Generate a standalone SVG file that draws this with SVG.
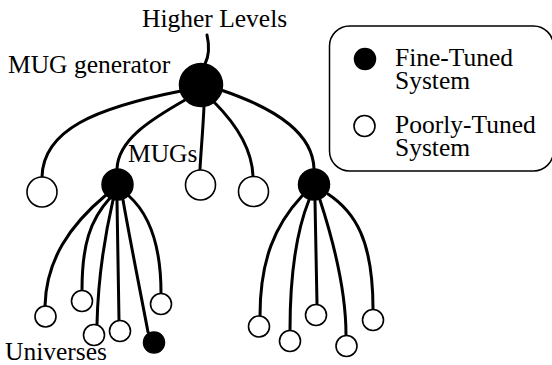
<svg xmlns="http://www.w3.org/2000/svg" width="552" height="365" viewBox="0 0 552 365">
  <style>
    .lbl { font-family: "Liberation Serif", "Times New Roman", serif; font-size: 25.5px; fill: #000; }
    .edge { fill: none; stroke: #000; stroke-width: 3; stroke-linecap: round; }
    .fine { fill: #000; stroke: #000; stroke-width: 1.5; }
    .poor { fill: #fff; stroke: #000; stroke-width: 1.6; }
  </style>
  <rect width="552" height="365" fill="#fff"/>

  <!-- connectors -->
  <g id="connectors">
    <path class="edge" d="M207 35 C210 48 208 58 205 64"/>
    <!-- generator to MUGs -->
    <path class="edge" d="M181 91 C95 108 43 130 42 177"/>
    <path class="edge" d="M185 100 C150 120 118 140 117 169"/>
    <path class="edge" d="M204 106 C203 130 201 150 200 169"/>
    <path class="edge" d="M214 102 C236 124 252 150 253 176"/>
    <path class="edge" d="M221 90 C280 110 313 135 314 169"/>
    <!-- first MUG to universes -->
    <path class="edge" d="M106 195 C70 225 46 260 45 306"/>
    <path class="edge" d="M110 198 C90 220 82 245 82 290"/>
    <path class="edge" d="M113 200 C105 235 98 280 97 324"/>
    <path class="edge" d="M117 201 L119 320"/>
    <path class="edge" d="M123 200 C130 240 140 290 148 332"/>
    <path class="edge" d="M129 196 C150 215 161 245 161 293"/>
    <!-- second MUG to universes -->
    <path class="edge" d="M302 196 C275 225 260 260 260 316"/>
    <path class="edge" d="M309 200 C297 230 290 270 290 330"/>
    <path class="edge" d="M315 201 L317 304"/>
    <path class="edge" d="M320 200 C333 240 346 290 346 335"/>
    <path class="edge" d="M328 194 C355 212 373 240 373 309"/>
  </g>

  <!-- MUG generator -->
  <g id="generator">
    <circle class="fine" cx="201" cy="85" r="21.5"/>
  </g>

  <!-- MUGs -->
  <g id="mug-left-open"><circle class="poor" cx="42" cy="192" r="15"/></g>
  <g id="mug-1"><circle class="fine" cx="117.5" cy="184.5" r="15.5"/></g>
  <g id="mug-mid-open"><circle class="poor" cx="200.5" cy="185" r="15"/></g>
  <g id="mug-right-open"><circle class="poor" cx="253.5" cy="191.5" r="15"/></g>
  <g id="mug-2"><circle class="fine" cx="314" cy="184.5" r="15.5"/></g>

  <!-- universes of the first MUG -->
  <g id="u1a"><circle class="poor" cx="45.5" cy="316.5" r="10.5"/></g>
  <g id="u1b"><circle class="poor" cx="82" cy="301" r="10.5"/></g>
  <g id="u1c"><circle class="poor" cx="94" cy="335" r="10.5"/></g>
  <g id="u1d"><circle class="poor" cx="120" cy="331" r="10.5"/></g>
  <g id="u1e"><circle class="fine" cx="154" cy="342.5" r="10.5"/></g>
  <g id="u1f"><circle class="poor" cx="161" cy="304" r="10.5"/></g>

  <!-- universes of the second MUG -->
  <g id="u2a"><circle class="poor" cx="259" cy="326.5" r="10.5"/></g>
  <g id="u2b"><circle class="poor" cx="290" cy="341" r="10.5"/></g>
  <g id="u2c"><circle class="poor" cx="316" cy="315" r="10.5"/></g>
  <g id="u2d"><circle class="poor" cx="346.5" cy="346" r="10.5"/></g>
  <g id="u2e"><circle class="poor" cx="373" cy="320" r="10.5"/></g>

  <!-- labels -->
  <g id="labels">
    <text class="lbl" x="142" y="27">Higher Levels</text>
    <text class="lbl" x="8" y="73">MUG generator</text>
    <text class="lbl" x="128" y="162">MUGs</text>
    <text class="lbl" x="5" y="360">Universes</text>
  </g>

  <!-- legend -->
  <g id="legend">
    <rect x="329.5" y="26" width="224" height="145" rx="20" ry="20" fill="none" stroke="#000" stroke-width="1.5"/>
    <circle class="fine" cx="365" cy="59" r="10.5"/>
    <circle class="poor" cx="364.5" cy="126" r="10.5"/>
    <text class="lbl" x="395" y="66">Fine-Tuned</text>
    <text class="lbl" x="395" y="89">System</text>
    <text class="lbl" x="395" y="133">Poorly-Tuned</text>
    <text class="lbl" x="395" y="156">System</text>
  </g>
</svg>
